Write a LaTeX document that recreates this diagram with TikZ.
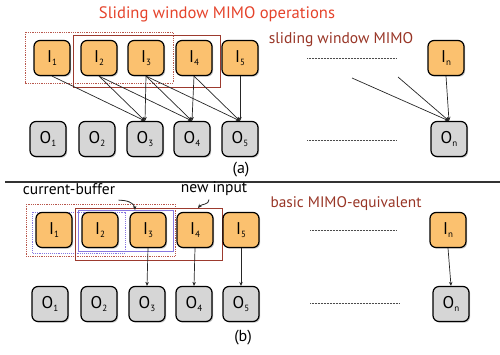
\documentclass[tikz,border=0pt]{standalone}
\usepackage{fontspec}
\setmainfont{PT Sans}
\usepackage{tikz}
\usetikzlibrary{arrows.meta,shadows,positioning}

\definecolor{inorange}{HTML}{FBC16F}
\definecolor{outgray}{HTML}{D6D6D6}
\definecolor{titlered}{HTML}{E5432B}
\definecolor{labelred}{HTML}{983526}
\definecolor{winbrown}{HTML}{9C3A2E}
\definecolor{dotred}{HTML}{B8574C}
\definecolor{bufpurple}{HTML}{8878E0}

\tikzset{
  blk/.style={rounded corners=6pt, draw=black, line width=1.2pt, minimum width=36pt, minimum height=35pt,
    inner sep=0pt, font=\fontsize{17}{17}\selectfont,
    drop shadow={shadow xshift=1.2pt, shadow yshift=-1.2pt, opacity=0.45}},
  inblk/.style={blk, fill=inorange},
  outblk/.style={blk, fill=outgray},
  conn/.style={-{Stealth[length=4pt,width=3.5pt]}, line width=0.7pt, black!85},
  gap/.style={densely dotted, line width=0.5pt, black!70},
}
\newcommand{\blab}[2]{#1\raisebox{-2.5pt}{\fontsize{9}{9}\selectfont #2}}

\begin{document}
\begin{tikzpicture}[x=1pt, y=-1pt]
    \useasboundingbox (0,0) rectangle (500,354);

    % Titles
    \node[text=titlered, font=\fontsize{16.6}{17}\selectfont] (title) at (217,14) {Sliding window MIMO operations};
    \node[text=labelred, font=\fontsize{15.5}{16}\selectfont] (sub1) at (341,40) {sliding window MIMO};

    % (a) input row
    \node[inblk] (Ia1) at (52,58) {\blab{I}{1}};
    \node[inblk] (Ia2) at (99,58) {\blab{I}{2}};
    \node[inblk] (Ia3) at (146,58) {\blab{I}{3}};
    \node[inblk] (Ia4) at (194,58) {\blab{I}{4}};
    \node[inblk] (Ia5) at (240,58) {\blab{I}{5}};
    \node[inblk] (Ian) at (446,58) {\blab{I}{n}};

    % (a) output row
    \node[outblk] (Oa1) at (48,139) {\blab{O}{1}};
    \node[outblk] (Oa2) at (97,139) {\blab{O}{2}};
    \node[outblk] (Oa3) at (145,139) {\blab{O}{3}};
    \node[outblk] (Oa4) at (192,139) {\blab{O}{4}};
    \node[outblk] (Oa5) at (240,139) {\blab{O}{5}};
    \node[outblk] (Oan) at (449,139) {\blab{O}{n}};

    % (a) windows
    \draw[dotred, densely dotted, line width=0.8pt] (25,32) rectangle (173,83);
    \draw[winbrown, line width=0.9pt] (73,35) rectangle (220,87);

    % (a) gaps
    \draw[gap] (307,58) -- (397,58);
    \draw[gap] (307,140) -- (397,140);

    % (a) sliding connections
    \draw[conn] (Ia1.south) -- (Oa3.north);
    \draw[conn] (Ia2.south) -- (Oa3.north);
    \draw[conn] (Ia3.south) -- (Oa3.north);
    \draw[conn] (Ia2.south) -- (Oa4.north);
    \draw[conn] (Ia3.south) -- (Oa4.north);
    \draw[conn] (Ia4.south) -- (Oa4.north);
    \draw[conn] (Ia3.south) -- (Oa5.north);
    \draw[conn] (Ia4.south) -- (Oa5.north);
    \draw[conn] (Ia5.south) -- (Oa5.north);
    \coordinate (fa1) at (352,78);
    \coordinate (fa2) at (398,77);
    \draw[conn] (fa1) -- (Oan.north);
    \draw[conn] (fa2) -- (Oan.north);
    \draw[conn] (Ian.south) -- (Oan.north);

    \node[font=\fontsize{16}{16}\selectfont] (capa) at (241,170) {(a)};

    % separator
    \draw[line width=1.2pt, black!80] (5,182) -- (500,182);

    % (b) labels
    \node[font=\fontsize{15.5}{16}\selectfont] (curbuf) at (69,189) {current-buffer};
    \node[font=\fontsize{15.5}{16}\selectfont] (newin) at (214,189) {new input};
    \node[text=labelred, font=\fontsize{15.3}{16}\selectfont] (sub2) at (346,204) {basic MIMO-equivalent};

    % (b) windows
    \draw[dotred, densely dotted, line width=0.8pt] (26,204) rectangle (175,256);
    \draw[bufpurple, densely dotted, line width=0.9pt] (32,212) rectangle (125,253);
    \draw[bufpurple, line width=0.9pt] (78,210) rectangle (173,251);
    \draw[winbrown, line width=0.9pt] (75,208) rectangle (222,260);

    % (b) input row
    \node[inblk] (Ib1) at (54,230) {\blab{I}{1}};
    \node[inblk] (Ib2) at (100,230) {\blab{I}{2}};
    \node[inblk] (Ib3) at (148,230) {\blab{I}{3}};
    \node[inblk] (Ib4) at (195,230) {\blab{I}{4}};
    \node[inblk] (Ib5) at (241,230) {\blab{I}{5}};
    \node[inblk] (Ibn) at (448,230) {\blab{I}{n}};

    % (b) output row
    \node[outblk] (Ob1) at (50,304) {\blab{O}{1}};
    \node[outblk] (Ob2) at (99,304) {\blab{O}{2}};
    \node[outblk] (Ob3) at (147,304) {\blab{O}{3}};
    \node[outblk] (Ob4) at (194,304) {\blab{O}{4}};
    \node[outblk] (Ob5) at (241,304) {\blab{O}{5}};
    \node[outblk] (Obn) at (451,304) {\blab{O}{n}};

    % (b) gaps
    \draw[gap] (310,230) -- (397,230);
    \draw[gap] (310,303) -- (400,303);

    % (b) one-to-one connections
    \draw[conn] (Ib3.south) -- (Ob3.north);
    \draw[conn] (Ib4.south) -- (Ob4.north);
    \draw[conn] (Ib5.south) -- (Ob5.north);
    \draw[conn] (Ibn.south) -- (Obn.north);

    % pointers to the windows
    \coordinate (cbtip) at (135,210);
    \coordinate (nitip) at (198,208);
    \draw[conn, line width=0.8pt] ([yshift=-2pt]curbuf.south east) to[out=0,in=95] (cbtip);
    \draw[conn, line width=0.8pt] ([xshift=-5pt]newin.south) to[out=-90,in=50] (nitip);

    \node[font=\fontsize{16}{16}\selectfont] (capb) at (243,338) {(b)};
\end{tikzpicture}
\end{document}
